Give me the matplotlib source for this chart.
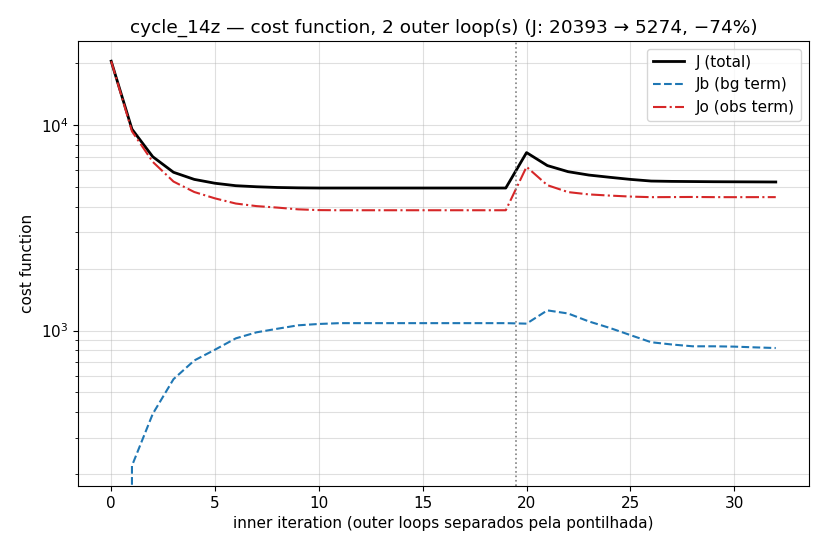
import numpy as np
import matplotlib
matplotlib.use("Agg")
import matplotlib.pyplot as plt

# ── data ────────────────────────────────────────────────────────────────────
iters = np.arange(33)
J_total = [20393, 9530, 7000, 5880, 5430, 5200, 5060, 5000, 4960, 4940,
           4930, 4930, 4930, 4930, 4930, 4930, 4930, 4930, 4930, 4930,
           7330, 6340, 5920, 5700, 5560, 5430, 5330, 5310, 5300, 5290,
           5285, 5280, 5274]
Jb = [0, 220, 393, 580, 715, 807, 916, 980, 1020, 1060,
      1076, 1086, 1086, 1086, 1086, 1086, 1086, 1086, 1086, 1086,
      1080, 1253, 1210, 1107, 1030, 950, 877, 855, 838, 838,
      835, 828, 822]
Jo = [20393, 9300, 6610, 5300, 4715, 4390, 4144, 4026, 3960, 3883,
      3850, 3844, 3844, 3844, 3844, 3844, 3844, 3844, 3844, 3844,
      6250, 5090, 4710, 4590, 4530, 4480, 4450, 4455, 4460, 4452,
      4450, 4452, 4452]
outer_break = 19.5

plt.rcParams.update({'font.size': 11})

fig, ax = plt.subplots(figsize=(8.25, 5.5), dpi=100)

ax.plot(iters, J_total, color='black', linewidth=2, label='J (total)')
ax.plot(iters, Jb, color='#1f77b4', linestyle='--', linewidth=1.5, label='Jb (bg term)')
ax.plot(iters, Jo, color='#d62728', linestyle='-.', linewidth=1.5, label='Jo (obs term)')
ax.axvline(outer_break, color='gray', linestyle=':', linewidth=1.2)

ax.set_yscale('log')
ax.grid(True, which='both', alpha=0.4)
ax.set_xlabel('inner iteration (outer loops separados pela pontilhada)')
ax.set_ylabel('cost function')
ax.set_title('cycle_14z — cost function, 2 outer loop(s) (J: 20393 → 5274, −74%)',
             fontsize=13.3)
ax.legend(loc='upper right')

fig.subplots_adjust(left=0.0945, right=0.9806, bottom=0.1164, top=0.9255)
plt.savefig('out.png')
